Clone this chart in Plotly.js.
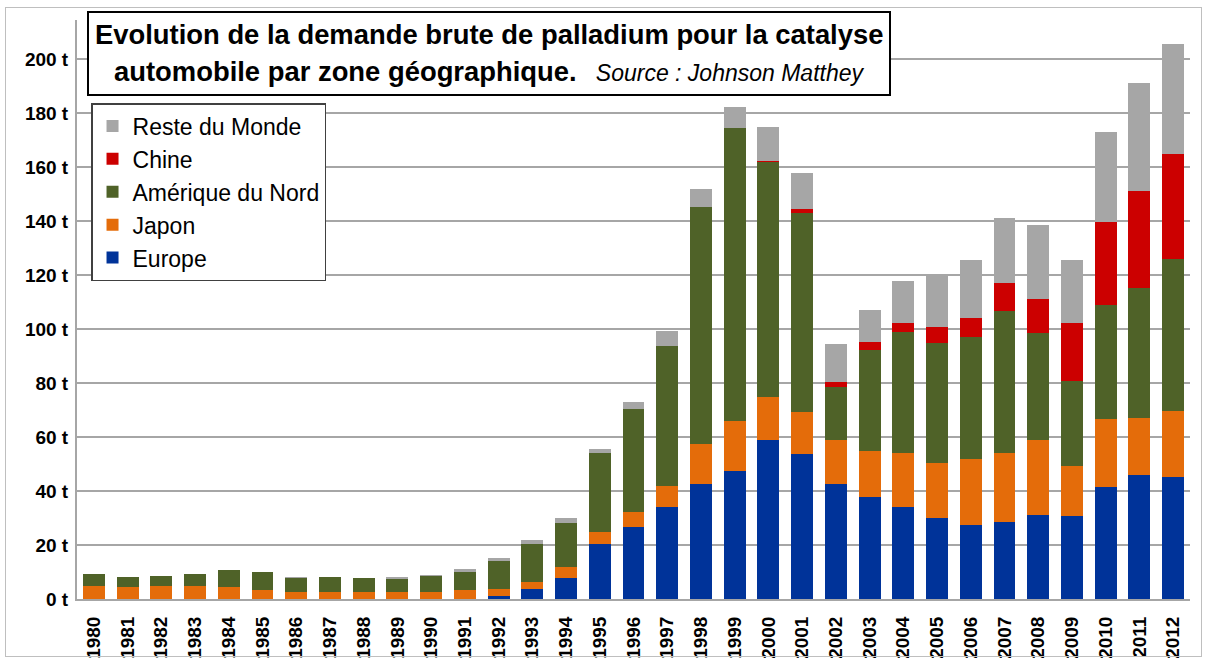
<!DOCTYPE html>
<html><head><meta charset="utf-8">
<script src="https://cdn.plot.ly/plotly-3.0.1.min.js"></script>
<style>
html,body{margin:0;padding:0;background:#fff;}
#frame{position:absolute;left:5px;top:7px;width:1197px;height:650px;border:1px solid #bfbfbf;box-sizing:border-box;pointer-events:none;z-index:5;}
#chart{position:absolute;left:0;top:0;width:1208px;height:660px;}
</style></head>
<body>
<div id="chart"></div>
<div id="frame"></div>
<script>
const years = ["1980","1981","1982","1983","1984","1985","1986","1987","1988","1989","1990","1991","1992","1993","1994","1995","1996","1997","1998","1999","2000","2001","2002","2003","2004","2005","2006","2007","2008","2009","2010","2011","2012"];
const europe = [0,0,0,0,0,0,0,0,0,0,0,0,1.2,3.6,7.9,20.2,26.7,34.2,42.5,47.3,58.8,53.7,42.5,37.8,34.2,30.1,27.4,28.5,31.0,30.6,41.4,46.0,45.3];
const japon = [4.8,4.3,4.8,4.8,4.3,3.2,2.7,2.7,2.7,2.7,2.7,3.2,2.4,2.7,4.0,4.5,5.5,7.5,14.8,18.7,15.9,15.4,16.4,17.0,19.9,20.4,24.6,25.6,27.8,18.7,25.4,21.2,24.3];
const ameriqueNord = [4.3,4.0,3.8,4.3,6.4,6.7,4.9,5.3,4.9,4.7,5.9,6.7,10.4,13.9,16.4,29.4,38.0,52.1,87.8,108.4,87.0,74.0,19.7,37.4,44.9,44.4,45.0,52.4,39.8,31.4,42.0,48.1,56.3];
const chine = [0,0,0,0,0,0,0,0,0,0,0,0,0,0,0,0,0,0,0,0,0.5,1.3,1.6,2.8,3.1,5.7,7.2,10.4,12.4,21.4,30.9,35.8,39.0];
const resteMonde = [0,0,0,0,0,0,0.7,0.3,0.2,0.8,0.3,1.2,1.1,1.5,1.8,1.6,2.9,5.4,6.6,7.9,12.6,13.2,14.2,12.0,15.6,19.1,21.4,24.1,27.6,23.5,33.4,39.9,40.6];
const yTicks = [0,20,40,60,80,100,120,140,160,180,200];
const yTickText = ["0 t","20 t","40 t","60 t","80 t","100 t","120 t","140 t","160 t","180 t","200 t"];

const FONT = "Liberation Sans Narrow, Liberation Sans, Arial, sans-serif";
const series = [
  {name:"Europe", y:europe, color:"#003399"},
  {name:"Japon", y:japon, color:"#E46C0A"},
  {name:"Amérique du Nord", y:ameriqueNord, color:"#4F6228"},
  {name:"Chine", y:chine, color:"#CC0000"},
  {name:"Reste du Monde", y:resteMonde, color:"#A6A6A6"}
];
const traces = series.map(s => ({
  type:"bar", x:years, y:s.y, name:s.name, legendgroup:s.name,
  marker:{color:s.color, line:{width:0}}, hoverinfo:"x+y+name"
}));

const layout = {
  width:1208, height:660,
  margin:{l:77, r:18, t:20, b:61},
  barmode:"stack", bargap:0.35,
  paper_bgcolor:"#ffffff", plot_bgcolor:"#ffffff",
  font:{family:FONT, color:"#000000"},
  showlegend:true,
  legend:{x:0.0126, y:(599-103)/579, xanchor:"left", yanchor:"top", traceorder:"reversed",
    bgcolor:"#ffffff", bordercolor:"#404040", borderwidth:1.5,
    font:{family:FONT, size:23, color:"#000"}, tracegroupgap:8.5, itemclick:false},
  xaxis:{type:"category", tickangle:-90, showgrid:false, ticks:"", showline:true,
    linecolor:"#a6a6a6", linewidth:2, ticklabelstandoff:8,
    tickfont:{family:FONT, size:19, weight:"bold", color:"#000"}},
  yaxis:{range:[0,214.4], tickvals:yTicks, ticktext:yTickText, showgrid:true,
    gridcolor:"#a6a6a6", gridwidth:1.3, showline:true, linecolor:"#a6a6a6", linewidth:2,
    ticks:"", zeroline:false, ticklabelstandoff:3,
    tickfont:{family:FONT, size:19, weight:"bold", color:"#000"}},
  shapes:[{type:"rect", xref:"paper", yref:"paper", layer:"above",
    x0:(88-77)/1113, x1:(890-77)/1113, y0:(599-95)/579, y1:(599-12)/579,
    fillcolor:"#ffffff", line:{color:"#000000", width:2}}],
  annotations:[
    {xref:"paper", yref:"paper", x:(489-77)/1113, y:(599-35)/579, xanchor:"center", yanchor:"middle",
     showarrow:false, text:"<b>Evolution de la demande brute de palladium pour la catalyse</b>",
     font:{family:FONT, size:27.4, color:"#000"}},
    {xref:"paper", yref:"paper", x:(489-77)/1113, y:(599-72)/579, xanchor:"center", yanchor:"middle",
     showarrow:false, text:"<b>automobile par zone géographique.</b><span style='font-size:23px'>   <i>Source : Johnson Matthey</i></span>",
     font:{family:FONT, size:27.4, color:"#000"}}
  ]
};
Plotly.newPlot("chart", traces, layout, {displayModeBar:false, staticPlot:true});
</script>
</body></html>
